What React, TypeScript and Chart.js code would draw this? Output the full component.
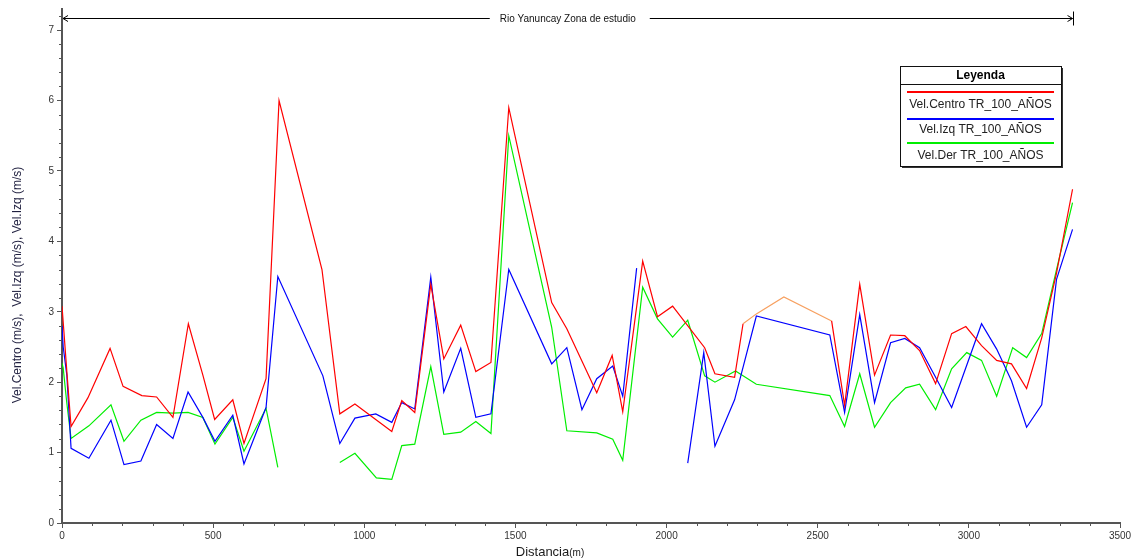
import React, { useEffect, useRef } from "react";
import { Chart, registerables } from "chart.js";
Chart.register(...registerables);

// ---------- DATA ----------
const distCentro = [0, 4, 16, 30, 86, 159, 202, 264, 313, 367, 418, 466, 505, 565, 602, 675, 718, 860, 919, 969, 1091, 1124, 1167, 1220, 1263, 1319, 1369, 1419, 1478, 1620, 1670, 1769, 1820, 1855, 1921, 1970, 2020, 2126, 2160, 2225, 2253, 2297, 2388, 2546, 2589, 2639, 2688, 2741, 2788, 2837, 2890, 2943, 2990, 3042, 3092, 3141, 3191, 3241, 3290, 3343];
const velCentro = [3.08, 2.85, 2.15, 1.37, 1.78, 2.48, 1.94, 1.81, 1.79, 1.5, 2.83, 2.1, 1.47, 1.75, 1.13, 2.05, 6.0, 3.6, 1.55, 1.69, 1.3, 1.74, 1.57, 3.39, 2.33, 2.81, 2.15, 2.28, 5.9, 3.13, 2.76, 1.85, 2.38, 1.58, 3.72, 2.93, 3.08, 2.49, 2.12, 2.07, 2.83, 2.97, 3.21, 2.87, 1.67, 3.39, 2.1, 2.67, 2.66, 2.45, 1.98, 2.69, 2.79, 2.52, 2.31, 2.26, 1.91, 2.63, 3.55, 4.74];

const distIzq = [0, 4, 16, 30, 89, 162, 205, 261, 313, 367, 417, 466, 506, 565, 602, 675, 714, 863, 919, 969, 1038, 1091, 1124, 1167, 1220, 1263, 1319, 1369, 1419, 1478, 1620, 1670, 1720, 1769, 1822, 1855, 1901, 1990, 2070, 2123, 2160, 2225, 2297, 2540, 2589, 2639, 2688, 2741, 2788, 2837, 2890, 2943, 3042, 3092, 3141, 3191, 3241, 3290, 3343];
const velIzq = [2.8, 2.5, 2.1, 1.06, 0.92, 1.46, 0.83, 0.88, 1.4, 1.2, 1.86, 1.5, 1.16, 1.53, 0.84, 1.64, 3.5, 2.09, 1.13, 1.49, 1.55, 1.43, 1.71, 1.62, 3.49, 1.86, 2.48, 1.5, 1.55, 3.6, 2.26, 2.49, 1.61, 2.05, 2.23, 1.8, 3.62, null, 0.85, 2.42, 1.09, 1.75, 2.94, 2.67, 1.57, 2.96, 1.71, 2.56, 2.62, 2.49, 2.07, 1.64, 2.83, 2.47, 2.02, 1.36, 1.68, 3.46, 4.17];

const distDer = [0, 4, 16, 30, 89, 162, 205, 261, 313, 367, 417, 466, 506, 565, 602, 675, 714, 816, 919, 969, 1040, 1091, 1124, 1167, 1220, 1263, 1319, 1369, 1419, 1478, 1620, 1670, 1769, 1822, 1855, 1921, 1970, 2020, 2070, 2126, 2160, 2228, 2297, 2540, 2589, 2639, 2688, 2741, 2791, 2837, 2890, 2943, 2993, 3042, 3092, 3145, 3191, 3241, 3290, 3343];
const velDer = [2.27, 2.2, 1.7, 1.2, 1.38, 1.68, 1.16, 1.46, 1.57, 1.56, 1.57, 1.5, 1.12, 1.5, 1.02, 1.63, 0.79, null, 0.86, 0.99, 0.64, 0.62, 1.1, 1.12, 2.22, 1.26, 1.29, 1.44, 1.27, 5.5, 2.78, 1.31, 1.28, 1.19, 0.89, 3.35, 2.9, 2.64, 2.88, 2.09, 2.0, 2.16, 1.97, 1.81, 1.37, 2.12, 1.36, 1.71, 1.92, 1.97, 1.61, 2.19, 2.42, 2.31, 1.8, 2.49, 2.35, 2.69, 3.6, 4.55];

const seriesLabels = ["Vel.Centro TR_100_AÑOS", "Vel.Izq TR_100_AÑOS", "Vel.Der TR_100_AÑOS"];
const legendTitle = "Leyenda";
const orangeRange = [2253, 2546];
const annotationText = "Rio Yanuncay Zona de estudio";
const annotationStart = 0;
const annotationEnd = 3343;
const annotationY = 7.17;
const yAxisTitle = "Vel.Centro (m/s),  Vel.Izq (m/s), Vel.Izq (m/s)";
const xAxisTitle = "Distancia";
const xAxisUnit = "(m)";
const xMin = 0, xMax = 3500, xStep = 500, xMinorStep = 100;
const yMin = 0, yMax = 7.3, yStep = 1, yMinorStep = 0.2;

const COLORS = { red: "#ff0000", blue: "#0000ff", green: "#00ee00", orange: "#f7a060" };
const FONT = "'Liberation Sans', Arial, sans-serif";

const toPts = (xs: number[], ys: (number | null)[]) => xs.map((x, i) => ({ x, y: ys[i] }));

const decorPlugin = {
  id: "decor",
  afterDraw(chart: any) {
    const ctx = chart.ctx as CanvasRenderingContext2D;
    const xs = chart.scales.x;
    const ys = chart.scales.y;
    const area = chart.chartArea;
    ctx.save();
    // minor ticks
    ctx.strokeStyle = "#555";
    ctx.lineWidth = 1;
    ctx.beginPath();
    for (let v = xMin; v <= xMax + 1e-6; v += xMinorStep) {
      if (Math.abs(v % xStep) < 1e-6) continue;
      const px = Math.round(xs.getPixelForValue(v)) + 0.5;
      ctx.moveTo(px, area.bottom);
      ctx.lineTo(px, area.bottom + 3);
    }
    for (let v = yMin; v <= yMax + 1e-6; v += yMinorStep) {
      const r = Math.round(v * 10) / 10;
      if (Math.abs(r - Math.round(r)) < 1e-6) continue;
      const py = Math.round(ys.getPixelForValue(r)) + 0.5;
      ctx.moveTo(area.left, py);
      ctx.lineTo(area.left - 3, py);
    }
    ctx.stroke();

    // annotation arrow
    const ax0 = xs.getPixelForValue(annotationStart) + 1;
    const ax1 = xs.getPixelForValue(annotationEnd);
    const ay = Math.round(ys.getPixelForValue(annotationY)) + 0.5;
    ctx.font = `10px ${FONT}`;
    const tw = ctx.measureText(annotationText).width;
    const mid = (ax0 + ax1) / 2;
    ctx.strokeStyle = "#000";
    ctx.lineWidth = 1;
    ctx.beginPath();
    ctx.moveTo(ax0, ay);
    ctx.lineTo(mid - tw / 2 - 10, ay);
    ctx.moveTo(mid + tw / 2 + 14, ay);
    ctx.lineTo(ax1, ay);
    ctx.moveTo(Math.round(ax1) + 0.5, ay - 7);
    ctx.lineTo(Math.round(ax1) + 0.5, ay + 7);
    // arrowheads
    ctx.moveTo(ax0 + 5, ay - 3);
    ctx.lineTo(ax0, ay);
    ctx.lineTo(ax0 + 5, ay + 3);
    ctx.moveTo(ax1 - 5, ay - 3);
    ctx.lineTo(ax1, ay);
    ctx.lineTo(ax1 - 5, ay + 3);
    ctx.stroke();
    ctx.fillStyle = "#111";
    ctx.textAlign = "center";
    ctx.textBaseline = "middle";
    ctx.fillText(annotationText, mid, ay + 1);

    // legend box
    const bx = 900, by = 66, bw = 161, bh = 100;
    ctx.fillStyle = "#fff";
    ctx.fillRect(bx, by, bw, bh);
    ctx.fillStyle = "#333";
    ctx.fillRect(bx + 2, by + bh, bw, 2);
    ctx.fillRect(bx + bw, by + 2, 2, bh);
    ctx.strokeStyle = "#111";
    ctx.lineWidth = 1;
    ctx.strokeRect(bx + 0.5, by + 0.5, bw, bh);
    ctx.beginPath();
    ctx.moveTo(bx, by + 18.5);
    ctx.lineTo(bx + bw, by + 18.5);
    ctx.stroke();
    ctx.fillStyle = "#000";
    ctx.font = `bold 12px ${FONT}`;
    ctx.fillText(legendTitle, bx + bw / 2, by + 10);
    const cols = [COLORS.red, COLORS.blue, COLORS.green];
    const lineYs = [92, 119, 143];
    const textYs = [105, 130, 156];
    ctx.font = `12px ${FONT}`;
    for (let i = 0; i < 3; i++) {
      ctx.strokeStyle = cols[i];
      ctx.lineWidth = 2;
      ctx.beginPath();
      ctx.moveTo(907, lineYs[i]);
      ctx.lineTo(1054, lineYs[i]);
      ctx.stroke();
      ctx.fillStyle = "#222";
      ctx.fillText(seriesLabels[i], bx + bw / 2, textYs[i]);
    }

    // axis titles
    ctx.fillStyle = "#1f1f3f";
    ctx.font = `12px ${FONT}`;
    ctx.save();
    ctx.translate(18, 285);
    ctx.rotate(-Math.PI / 2);
    ctx.textAlign = "center";
    ctx.textBaseline = "middle";
    ctx.fillText(yAxisTitle, 0, 0);
    ctx.restore();

    ctx.font = `13px ${FONT}`;
    const w1 = ctx.measureText(xAxisTitle).width;
    ctx.font = `10px ${FONT}`;
    const w2 = ctx.measureText(xAxisUnit).width;
    const cx = 550;
    const startX = cx - (w1 + w2) / 2;
    ctx.textAlign = "left";
    ctx.textBaseline = "alphabetic";
    ctx.fillStyle = "#1a1a1a";
    ctx.font = `13px ${FONT}`;
    ctx.fillText(xAxisTitle, startX, 556);
    ctx.font = `10px ${FONT}`;
    ctx.fillText(xAxisUnit, startX + w1, 556);
    ctx.restore();
  },
};

export default function App() {
  const ref = useRef<HTMLCanvasElement | null>(null);
  useEffect(() => {
    document.body.style.margin = "0";
    if (!ref.current) return;
    const chart = new Chart(ref.current, {
      type: "line",
      data: {
        datasets: [
          {
            label: seriesLabels[0],
            data: toPts(distCentro, velCentro),
            borderColor: COLORS.red,
            segment: {
              borderColor: (c: any) =>
                c.p0.parsed.x >= orangeRange[0] && c.p1.parsed.x <= orangeRange[1] ? COLORS.orange : undefined,
            },
          },
          { label: seriesLabels[1], data: toPts(distIzq, velIzq), borderColor: COLORS.blue },
          { label: seriesLabels[2], data: toPts(distDer, velDer), borderColor: COLORS.green },
        ].map((d: any) => ({ ...d, borderWidth: 1.2, pointRadius: 0, tension: 0, spanGaps: false, fill: false })),
      },
      options: {
        animation: false,
        responsive: false,
        maintainAspectRatio: false,
        devicePixelRatio: 1,
        layout: { padding: { left: 0, right: 21, top: 7, bottom: 0 } },
        plugins: { legend: { display: false }, tooltip: { enabled: false }, title: { display: false } },
        scales: {
          x: {
            type: "linear",
            min: xMin,
            max: xMax,
            border: { display: true, color: "#555", width: 2 },
            grid: { drawOnChartArea: false, drawTicks: true, tickLength: 5, color: "#555" },
            ticks: { stepSize: xStep, color: "#333", font: { family: FONT, size: 10 }, padding: 2, maxRotation: 0, includeBounds: false, callback: (v: any) => String(v) },
            afterFit: (s: any) => { s.height = 37; },
          },
          y: {
            type: "linear",
            min: yMin,
            max: yMax,
            border: { display: true, color: "#555", width: 2 },
            grid: { drawOnChartArea: false, drawTicks: true, tickLength: 5, color: "#555" },
            ticks: { stepSize: yStep, color: "#333", font: { family: FONT, size: 10 }, padding: 3, includeBounds: false, callback: (v: any) => String(v) },
            afterFit: (s: any) => { s.width = 62; },
          },
        },
      },
      plugins: [decorPlugin],
    } as any);
    return () => chart.destroy();
  }, []);
  return (
    <div style={{ width: 1141, height: 560 }}>
      <canvas ref={ref} width={1141} height={560} style={{ display: "block" }} />
    </div>
  );
}
